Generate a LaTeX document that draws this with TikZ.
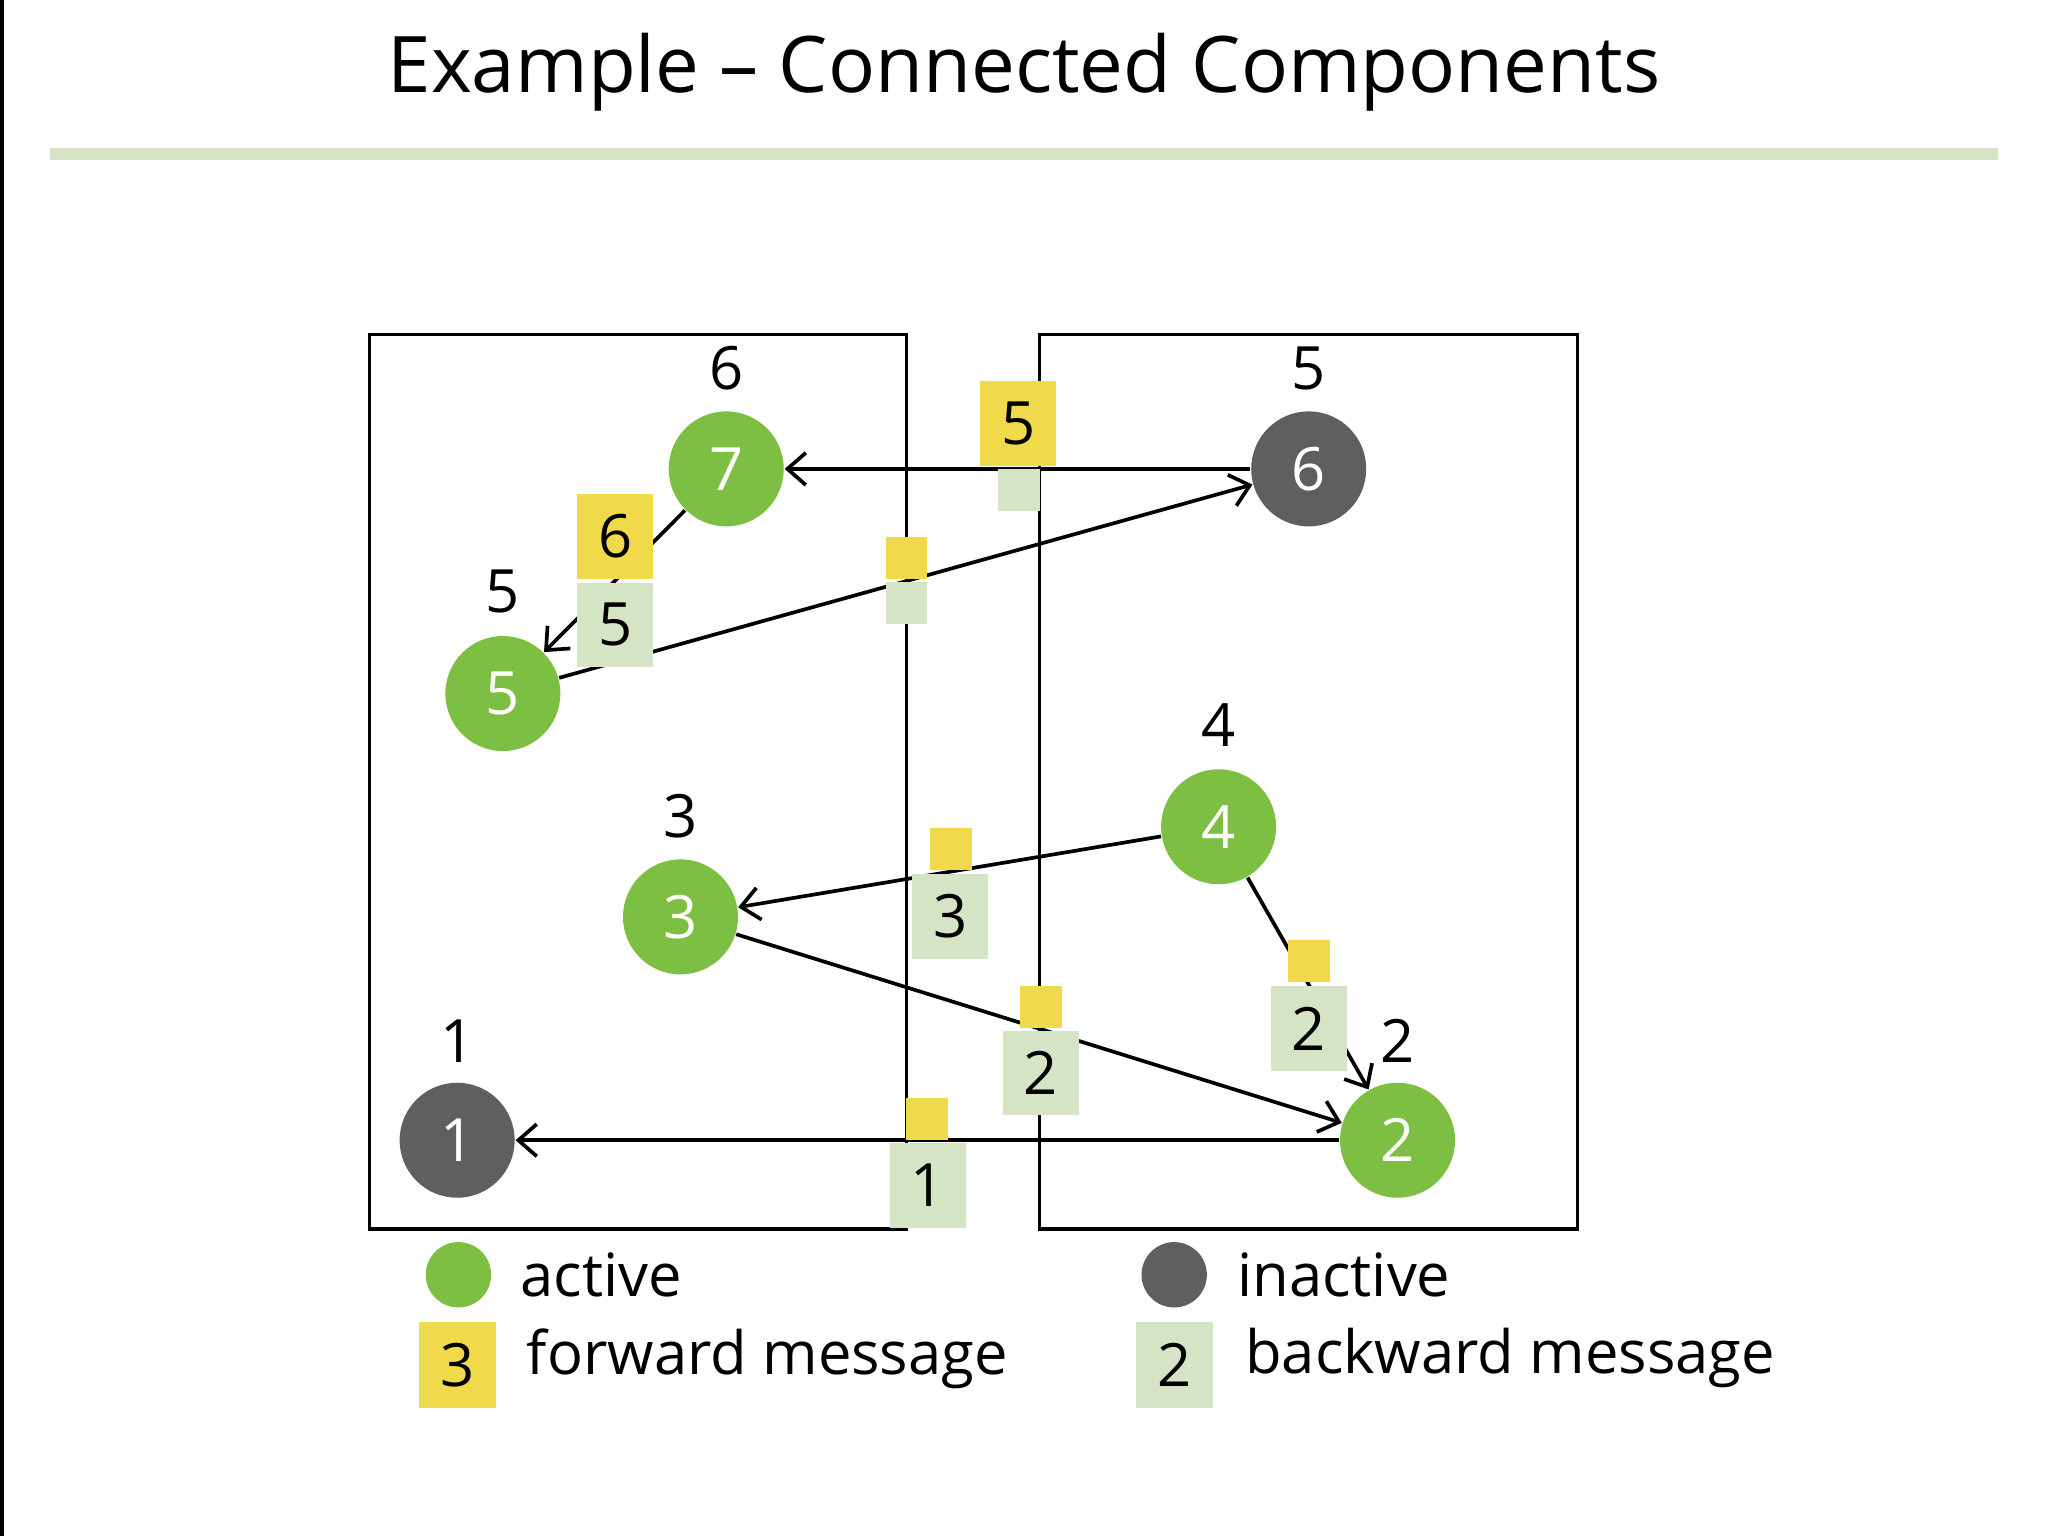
\documentclass[tikz,border=0pt]{standalone}
\usepackage{fontspec}
\setmainfont{Open Sans}
\usetikzlibrary{arrows.meta}
\definecolor{act}{HTML}{7CBF42}
\definecolor{ina}{HTML}{5F5F5F}
\definecolor{fwd}{HTML}{F0DA4B}
\definecolor{bwd}{HTML}{D4E4C4}
\definecolor{rule}{HTML}{D6E4C6}
\begin{document}
\begin{tikzpicture}[x=0.01cm,y=-0.01cm,
  v/.style={circle,minimum size=0.88cm,inner sep=0pt,text=white,font=\fontsize{13}{15}\selectfont},
  a/.style={v,fill=act}, i/.style={v,fill=ina},
  lab/.style={font=\fontsize{13}{15}\selectfont},
  e/.style={draw=black,line width=0.8pt,-{Straight Barb[length=4pt,width=7pt]}},
  msg/.style={inner sep=0pt,font=\fontsize{13}{15}\selectfont},
  fw/.style={msg,fill=fwd,minimum width=0.58cm,minimum height=0.65cm},
  bw/.style={msg,fill=bwd,minimum width=0.58cm,minimum height=0.65cm},
  fws/.style={msg,fill=fwd,minimum size=0.32cm},
  bws/.style={msg,fill=bwd,minimum size=0.32cm},
  leg/.style={anchor=west,font=\fontsize{13}{16}\selectfont}]
\useasboundingbox (0,0) rectangle (1568,1176);
\fill[white] (0,0) rectangle (1568,1176);
\draw[line width=1pt] (1,0) -- (1,1176);
\node[font=\fontsize{17}{20}\selectfont] (title) at (784,55) {Example – Connected Components};
\draw[rule,line width=2.5pt] (38,118) -- (1530,118);
\draw[line width=0.7pt] (283,256) rectangle (694,941);
\draw[line width=0.7pt] (796,256) rectangle (1208,941);
\node[a] (n7) at (556,359) {7}; \node[lab] at (556,282) {6};
\node[i] (n6) at (1002,359) {6}; \node[lab] at (1002,282) {5};
\node[a] (n5) at (385,531) {5}; \node[lab] at (385,453) {5};
\node[a] (n4) at (933,633) {4}; \node[lab] at (933,555) {4};
\node[a] (n3) at (521,702) {3}; \node[lab] at (521,625) {3};
\node[i] (n1) at (350,873) {1}; \node[lab] at (350,797) {1};
\node[a] (n2) at (1070,873) {2}; \node[lab] at (1070,797) {2};
\draw[e] (n6) -- (n7);
\draw[e] (n5) -- (n6);
\draw[e] (n7) -- (n5);
\draw[e] (n4) -- (n3);
\draw[e] (n3) -- (n2);
\draw[e] (n4) -- (n2);
\draw[e] (n2) -- (n1);
\node[fw] (m1) at (779.5,324.5) {5}; \node[bws] (m2) at (780,375) {};
\node[fw] (m3) at (471,410.5) {6}; \node[bw] (m4) at (471,478.5) {5};
\node[fws] (m5) at (694,427) {}; \node[bws] (m6) at (694,461.5) {};
\node[fws] (m7) at (728,650) {}; \node[bw] (m8) at (727.5,701.5) {3};
\node[fws] (m9) at (1002,736) {}; \node[bw] (m10) at (1002,787.5) {2};
\node[fws] (m11) at (797,771) {}; \node[bw] (m12) at (797,821.5) {2};
\node[fws] (m13) at (710,857) {}; \node[bw] (m14) at (710.5,907.5) {1};
\node[a,minimum size=0.5cm] (la) at (351,976) {}; \node[leg] at (386,976) {active};
\node[i,minimum size=0.5cm] (li) at (899,976) {}; \node[leg] at (935,976) {inactive};
\node[fw,minimum height=0.66cm,minimum width=0.59cm] (lf) at (350.5,1045) {3}; \node[leg] at (391,1040) {forward message};
\node[bw,minimum height=0.66cm,minimum width=0.59cm] (lb) at (899.5,1045) {2}; \node[leg] at (941,1040) {backward message};
\end{tikzpicture}
\end{document}
